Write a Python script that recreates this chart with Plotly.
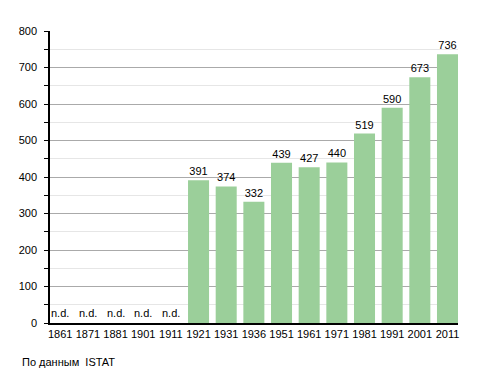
import plotly.graph_objects as go

years = ["1861", "1871", "1881", "1901", "1911", "1921", "1931", "1936",
         "1951", "1961", "1971", "1981", "1991", "2001", "2011"]
population = [None, None, None, None, None, 391, 374, 332,
              439, 427, 440, 519, 590, 673, 736]
nd_label = "n.d."
source_note = "По данным  ISTAT"

FONT = "Liberation Sans, Arial, sans-serif"
BAR_COLOR = "#9bcf9a"

# page body has an 8px margin, so the figure is drawn 8px smaller and offset
W, H = 480, 365
ML, MT, PW, PH = 42, 23, 408, 292

bar_text = [str(v) if v is not None else "" for v in population]

fig = go.Figure()
fig.add_trace(go.Bar(
    x=list(range(len(years))),
    y=population,
    marker=dict(color=BAR_COLOR, line=dict(width=0)),
    width=0.76,
    text=bar_text,
    textposition="outside",
    textfont=dict(family=FONT, size=11, color="#000000"),
    cliponaxis=False,
    hoverinfo="skip",
))

for i, v in enumerate(population):
    if v is None:
        fig.add_annotation(
            x=i, y=0, xref="x", yref="y",
            text=nd_label, showarrow=False,
            xanchor="center", yanchor="bottom", yshift=2,
            font=dict(family=FONT, size=11, color="#000000"),
        )

fig.update_layout(
    width=W, height=H,
    margin=dict(l=ML, r=W - ML - PW, t=MT, b=H - MT - PH, pad=0),
    paper_bgcolor="white", plot_bgcolor="white",
    showlegend=False,
    font=dict(family=FONT, size=11, color="#000000"),
)

fig.update_xaxes(
    range=[-0.37, 14.38],
    tickmode="array",
    tickvals=list(range(len(years))),
    ticktext=years,
    showgrid=False,
    showline=True, linecolor="#000000", linewidth=1.5,
    ticks="", ticklen=0,
    tickfont=dict(family=FONT, size=11, color="#000000"),
    zeroline=False,
    fixedrange=True,
)

fig.update_yaxes(
    range=[0, 800],
    tickmode="linear", tick0=0, dtick=100,
    showgrid=True, gridcolor="#aaaaaa", gridwidth=1,
    minor=dict(dtick=50, showgrid=True, gridcolor="#e6e6e6", gridwidth=1,
               ticks="outside", ticklen=4, tickcolor="#000000"),
    showline=True, linecolor="#000000", linewidth=1.5,
    ticks="outside", ticklen=4, tickcolor="#000000",
    tickfont=dict(family=FONT, size=11, color="#000000"),
    ticklabelstandoff=5,
    zeroline=False,
    fixedrange=True,
)

fig.add_annotation(
    text=source_note,
    xref="paper", yref="paper",
    x=(12 - ML) / PW, y=(PH + MT - 354) / PH,
    xanchor="left", yanchor="middle",
    showarrow=False,
    font=dict(family=FONT, size=11, color="#000000"),
)

fig.write_html("out.html")
